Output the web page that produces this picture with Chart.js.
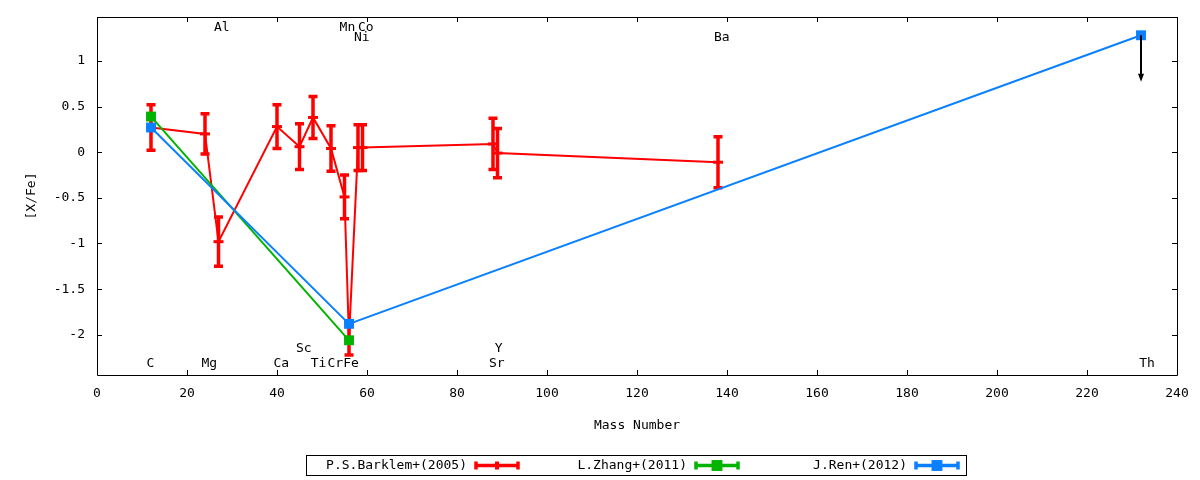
<!DOCTYPE html>
<html>
<head>
<meta charset="utf-8">
<script src="https://cdn.jsdelivr.net/npm/chart.js@4.4.0/dist/chart.umd.min.js"></script>
<style>
  html, body { margin: 0; padding: 0; background: #fff; }
  #wrap { width: 1200px; height: 480px; }
</style>
</head>
<body>
<div id="wrap"><canvas id="chart1"></canvas></div>
<script>
// Barklem+(2005): mass number, [X/Fe], error
const barklemMass  = [12, 24, 27, 40, 45, 48, 52, 55, 56, 58, 59, 88, 89, 138];
const barklemValue = [0.27, 0.2, -0.98, 0.28, 0.06, 0.38, 0.04, -0.49, -2.04, 0.05, 0.05, 0.09, -0.01, -0.11];
const barklemError = [0.25, 0.22, 0.27, 0.24, 0.25, 0.23, 0.25, 0.24, 0.18, 0.25, 0.25, 0.28, 0.27, 0.28];

// Zhang+(2011)
const zhangMass  = [12, 56];
const zhangValue = [0.39, -2.06];

// Ren+(2012), Th is an upper limit
const renMass  = [12, 56, 232];
const renValue = [0.27, -1.88, 1.28];
const renLimitIndex = 2;
const renLimitTo = 0.77;

// element names written on the plot (data coords)
const elementNames  = ['C', 'Mg', 'Al', 'Ca', 'Sc', 'Ti', 'Cr', 'Mn', 'Fe', 'Co', 'Ni', 'Sr', 'Y', 'Ba', 'Th'];
const elementLabelX = [11.0, 23.2, 26.0, 39.2, 44.2, 47.5, 51.2, 53.9, 54.7, 58.0, 57.1, 87.1, 88.4, 137.1, 231.6];
const elementLabelY = [-2.31, -2.31, 1.36, -2.31, -2.15, -2.31, -2.31, 1.36, -2.31, 1.36, 1.25, -2.31, -2.15, 1.25, -2.31];

const FONT = '"DejaVu Sans Mono", monospace';
Chart.defaults.font.family = FONT;
Chart.defaults.font.size = 13;
Chart.defaults.color = '#000';

const toPoints = (xs, ys) => xs.map((m, i) => ({ x: m, y: ys[i] }));

// frame with inward ticks on all four sides
const frame = {
    id: 'frame',
    beforeDatasetsDraw(chart) {
        const { ctx, chartArea: a, scales: { x, y } } = chart;
        ctx.save();
        ctx.strokeStyle = '#000';
        ctx.lineWidth = 1;
        ctx.beginPath();
        ctx.rect(Math.round(a.left) + 0.5, Math.round(a.top) + 0.5,
                 Math.round(a.right - a.left), Math.round(a.bottom - a.top));
        x.ticks.forEach(t => {
            const px = Math.round(x.getPixelForValue(t.value)) + 0.5;
            ctx.moveTo(px, a.bottom); ctx.lineTo(px, a.bottom - 5);
            ctx.moveTo(px, a.top); ctx.lineTo(px, a.top + 5);
        });
        y.ticks.forEach(t => {
            const py = Math.round(y.getPixelForValue(t.value)) + 0.5;
            ctx.moveTo(a.left, py); ctx.lineTo(a.left + 5, py);
            ctx.moveTo(a.right, py); ctx.lineTo(a.right - 5, py);
        });
        ctx.stroke();

        // element labels
        ctx.fillStyle = '#000';
        ctx.font = '13px ' + FONT;
        ctx.textAlign = 'left';
        ctx.textBaseline = 'middle';
        elementNames.forEach((name, i) => {
            ctx.fillText(name, x.getPixelForValue(elementLabelX[i]), y.getPixelForValue(elementLabelY[i]));
        });
        ctx.restore();
    }
};

// y error bars for datasets carrying an "errors" array
const errorBars = {
    id: 'errorBars',
    beforeDatasetsDraw(chart) {
        const { ctx, scales: { x, y } } = chart;
        chart.data.datasets.forEach(ds => {
            if (!ds.errors) return;
            ctx.save();
            ctx.strokeStyle = ds.borderColor;
            ctx.lineWidth = 3.5;
            ds.data.forEach((p, j) => {
                const px = x.getPixelForValue(p.x);
                const top = y.getPixelForValue(p.y + ds.errors[j]);
                const bot = y.getPixelForValue(p.y - ds.errors[j]);
                ctx.beginPath();
                ctx.moveTo(px, top); ctx.lineTo(px, bot);
                ctx.moveTo(px - 4.5, top); ctx.lineTo(px + 4.5, top);
                ctx.moveTo(px - 4.5, bot); ctx.lineTo(px + 4.5, bot);
                ctx.stroke();
            });
            ctx.restore();
        });
    }
};

// upper limit arrow + legend
const extras = {
    id: 'extras',
    afterDatasetsDraw(chart) {
        const { ctx, scales: { x, y } } = chart;
        const px = x.getPixelForValue(renMass[renLimitIndex]);
        const y1 = y.getPixelForValue(renValue[renLimitIndex]);
        const y2 = y.getPixelForValue(renLimitTo);
        ctx.save();
        ctx.strokeStyle = '#000';
        ctx.fillStyle = '#000';
        ctx.lineWidth = 2;
        ctx.beginPath();
        ctx.moveTo(px, y1); ctx.lineTo(px, y2 - 6);
        ctx.stroke();
        ctx.beginPath();
        ctx.moveTo(px - 3, y2 - 8); ctx.lineTo(px + 3, y2 - 8); ctx.lineTo(px, y2);
        ctx.closePath();
        ctx.fill();
        ctx.restore();
    },
    afterDraw(chart) {
        const { ctx } = chart;
        const bx = 306, by = 455, colW = 220;
        ctx.save();
        ctx.strokeStyle = '#000';
        ctx.lineWidth = 1;
        ctx.strokeRect(bx + 0.5, by + 0.5, colW * 3, 20);
        ctx.font = '13px ' + FONT;
        ctx.textAlign = 'right';
        ctx.textBaseline = 'middle';
        chart.data.datasets.forEach((ds, i) => {
            const cx = bx + i * colW;
            const cy = by + 10.5;
            ctx.fillStyle = '#000';
            ctx.fillText(ds.label, cx + 161, cy);
            const s0 = cx + 170, s1 = cx + 212, mid = (s0 + s1) / 2;
            ctx.strokeStyle = ds.borderColor;
            ctx.fillStyle = ds.borderColor;
            ctx.lineWidth = 3.5;
            ctx.beginPath();
            ctx.moveTo(s0, cy); ctx.lineTo(s1, cy);
            ctx.moveTo(s0, cy - 4); ctx.lineTo(s0, cy + 4);
            ctx.moveTo(s1, cy - 4); ctx.lineTo(s1, cy + 4);
            ctx.stroke();
            if (ds.pointStyle === 'rect') {
                const h = ds.pointRadius * Math.SQRT1_2 + 0.5;
                ctx.fillRect(mid - h, cy - h, 2 * h, 2 * h);
            } else {
                ctx.fillRect(mid - 2, cy - 4, 4, 8);
            }
        });
        ctx.restore();
    }
};

new Chart(document.getElementById('chart1').getContext('2d'), {
    type: 'scatter',
    data: {
        datasets: [
            {
                label: 'P.S.Barklem+(2005)',
                data: toPoints(barklemMass, barklemValue),
                errors: barklemError,
                showLine: true,
                borderColor: '#ff0000',
                backgroundColor: '#ff0000',
                borderWidth: 2,
                pointStyle: 'line',
                pointRadius: 5,
                pointBorderWidth: 3,
                order: 3,
            },
            {
                label: 'L.Zhang+(2011)',
                data: toPoints(zhangMass, zhangValue),
                showLine: true,
                borderColor: '#00b400',
                backgroundColor: '#00b400',
                borderWidth: 2,
                pointStyle: 'rect',
                pointRadius: 7,
                pointBorderWidth: 0,
                order: 2,
            },
            {
                label: 'J.Ren+(2012)',
                data: toPoints(renMass, renValue),
                showLine: true,
                borderColor: '#0a80ff',
                backgroundColor: '#0a80ff',
                borderWidth: 2,
                pointStyle: 'rect',
                pointRadius: 7,
                pointBorderWidth: 0,
                order: 1,
            }
        ]
    },
    options: {
        responsive: true,
        maintainAspectRatio: false,
        animation: false,
        events: [],
        layout: { padding: { left: 0, top: 17, right: 23, bottom: 0 } },
        plugins: {
            legend: { display: false },
            tooltip: { enabled: false }
        },
        elements: { line: { tension: 0 } },
        scales: {
            x: {
                type: 'linear',
                min: 0,
                max: 240,
                grid: { display: false, drawTicks: false },
                border: { display: false },
                ticks: { stepSize: 20, padding: 11, maxRotation: 0, autoSkip: false, color: '#000' },
                title: { display: true, text: 'Mass Number', color: '#000', padding: { top: 0, bottom: 47 } },
                afterFit(scale) {
                    scale.height = 105;
                    scale.paddingLeft = 0;
                    scale.paddingRight = 0;
                }
            },
            y: {
                type: 'linear',
                min: -2.44,
                max: 1.48,
                grid: { display: false, drawTicks: false },
                border: { display: false },
                ticks: { stepSize: 0.5, includeBounds: false, padding: 12, color: '#000',
                         callback: v => String(v) },
                title: { display: true, text: '[X/Fe]', color: '#000', padding: { top: 24, bottom: 0 } },
                afterFit(scale) {
                    scale.width = 97;
                    scale.paddingTop = 0;
                    scale.paddingBottom = 0;
                }
            }
        }
    },
    plugins: [frame, errorBars, extras]
});
</script>
</body>
</html>
